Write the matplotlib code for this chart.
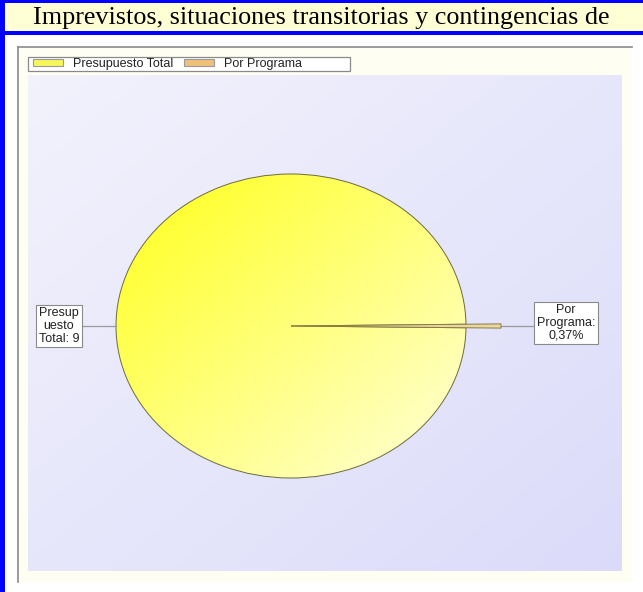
import numpy as np
import matplotlib.pyplot as plt
from matplotlib.patches import Rectangle, Patch

titulo = "Imprevistos, situaciones transitorias y contingencias de"
categorias = ["Presupuesto Total", "Por Programa"]
valores = [99.63, 0.37]
etiquetas = ["Presup\nuesto\nTotal: 9", "Por\nPrograma:\n0,37%"]

W, H = 643, 592
fig = plt.figure(figsize=(W / 100, H / 100), dpi=100)
fig.patch.set_facecolor("white")

# background frame in pixel coordinates
bg = fig.add_axes([0, 0, 1, 1])
bg.set_xlim(0, W)
bg.set_ylim(H, 0)
bg.axis("off")
bg.add_patch(Rectangle((0, 0), W, 32, facecolor="#ffffd6", edgecolor="none"))
bg.add_patch(Rectangle((0, 0), W, 3, facecolor="#0000ff", edgecolor="none"))
bg.add_patch(Rectangle((0, 31), W, 4, facecolor="#0000ff", edgecolor="none"))
bg.add_patch(Rectangle((0, 0), 5, H, facecolor="#0000ff", edgecolor="none"))
bg.text(321, 18, titulo, ha="center", va="center", fontsize=18.8,
        family="Liberation Serif", color="black")
# chart panel
bg.add_patch(Rectangle((18, 47), 614, 535, facecolor="#fefef3", edgecolor="none"))
bg.plot([18, 632], [47, 47], color="#8a8a8a", lw=1.2)
bg.plot([18, 18], [47, 582], color="#8a8a8a", lw=1.2)
# legend frame
bg.add_patch(Rectangle((28, 57), 322, 14, facecolor="white", edgecolor="#8a8a8a", lw=0.9))

# lavender gradient plot area
x0, x1, y0, y1 = 28, 622, 75, 571
cx, cy, rx, ry = 291, 326, 175, 152
ax = fig.add_axes([x0 / W, 1 - y1 / H, (x1 - x0) / W, (y1 - y0) / H])
xl = (-(cx - x0) / rx, (x1 - cx) / rx)
yl = (-(y1 - cy) / ry, (cy - y0) / ry)

gx, gy = np.meshgrid(np.linspace(0, 1, 200), np.linspace(0, 1, 200))
t = (gx + gy) / 2
c0 = np.array([0.95, 0.95, 0.99])
c1 = np.array([0.86, 0.86, 0.98])
img = c0 + (c1 - c0) * t[..., None]
ax.imshow(img, extent=(xl[0], xl[1], yl[0], yl[1]), origin="upper",
          aspect="auto", zorder=0)

wedges, _ = ax.pie(valores, startangle=valores[1] / 100 * 180,
                   colors=["#ffff60", "#e8d8a0"],
                   wedgeprops=dict(edgecolor="#6b6b40", linewidth=0.7))
wedges[1].set_radius(1.2)
wedges[1].set_edgecolor("#8a7a40")
wedges[1].set_zorder(3)

# yellow gradient inside the big slice
py, px = np.meshgrid(np.linspace(0, 1, 200), np.linspace(0, 1, 200), indexing="ij")
s = np.clip((px + py) / 2, 0, 1)
y_a = np.array([1.0, 1.0, 0.10])
y_b = np.array([1.0, 1.0, 0.86])
pimg = y_a + (y_b - y_a) * s[..., None]
im = ax.imshow(pimg, extent=(-1, 1, -1, 1), origin="upper", aspect="auto", zorder=1)
im.set_clip_path(wedges[0])
wedges[0].set_facecolor("none")
wedges[0].set_zorder(2)

ax.set_aspect("auto")
ax.set_xlim(*xl)
ax.set_ylim(*yl)
ax.axis("off")

box = dict(boxstyle="square,pad=0.2", facecolor="white", edgecolor="#8a8a8a", lw=0.8)
# left label
lx = -1 - (116 - 81) / rx
ax.plot([lx, -1], [0, 0], color="#9a9a9a", lw=0.9, zorder=2)
ax.text(lx - 0.01, 0, etiquetas[0], ha="right", va="center", fontsize=9,
        family="Liberation Sans", linespacing=1.1, multialignment="center",
        color="#222222", bbox=box)
# right label
r_in = 1.2
r_out = r_in + (535 - 501) / rx
ax.plot([r_in, r_out], [0, 0], color="#9a9a9a", lw=0.9, zorder=2)
ax.text(r_out + 0.01, 0.02, etiquetas[1], ha="left", va="center", fontsize=9,
        family="Liberation Sans", linespacing=1.1, multialignment="center",
        color="#222222", bbox=box)

# legend
handles = [Patch(facecolor="#f6f65a", edgecolor="#9a9a9a", lw=0.8),
           Patch(facecolor="#f0c07a", edgecolor="#9a9a9a", lw=0.8)]
leg = fig.legend(handles, categorias, loc="upper left",
                 bbox_to_anchor=(32 / W, 1 - 57 / H), ncol=2, frameon=False,
                 prop=dict(family="Liberation Sans", size=9),
                 handlelength=2.4, handleheight=0.45, handletextpad=0.75,
                 columnspacing=0.9, borderpad=0.1, borderaxespad=0)
for txt in leg.get_texts():
    txt.set_color("#222222")

fig.savefig("out.png", dpi=100)
